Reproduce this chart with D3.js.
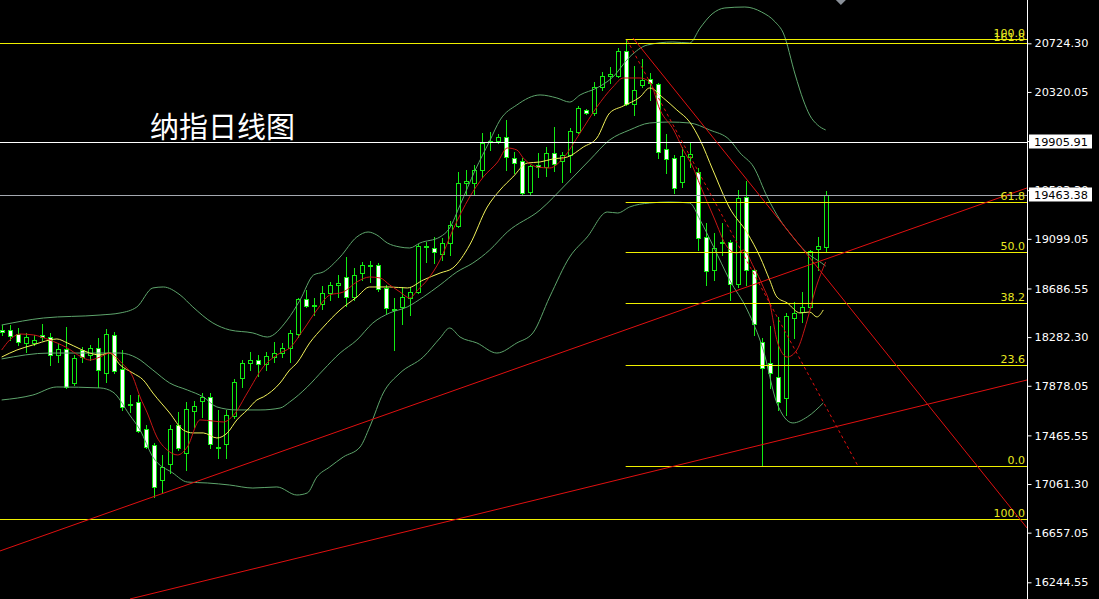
<!DOCTYPE html>
<html><head><meta charset="utf-8">
<script src="https://cdn.jsdelivr.net/npm/d3@7"></script>
<style>html,body{margin:0;padding:0;background:#000;overflow:hidden}svg{display:block}</style>
</head><body>
<svg id="c" width="1099" height="599"></svg>
<script>
// ---- data ----
const opens = [18342,18342,18308,18234,18234,18300,18283,18134,18184,17901,
18175,18134,18192,17984,18300,18017,17727,17743,17519,17386,
17095,17228,17552,17319,17668,17752,17785,17370,17394,17627,
17943,18067,18092,18059,18117,18150,18192,18308,18599,18541,
18558,18649,18716,18782,18616,18815,18874,18882,18691,18516,
18533,18607,18657,19031,19023,18973,19065,19206,19563,19563,
19671,19906,19912,19946,19771,19746,19488,19713,19696,19813,
19746,19796,19987,20170,20145,20361,20453,20453,20660,20220,
20378,20428,20386,19846,19771,19572,19779,19655,19115,18840,
19065,19073,18724,19447,18840,18242,18067,17951,17776,18441,
18491,18533,19015,19031];
const highs = [18383,18383,18358,18317,18300,18391,18317,18234,18367,18134,
18200,18217,18275,18350,18325,18175,17800,17801,17552,17402,
17303,17552,17660,17740,17752,17818,17818,17677,17677,17934,
18092,18159,18134,18159,18242,18234,18342,18607,18674,18607,
18707,18741,18799,18948,18857,18907,18915,18899,18716,18607,
18699,18699,19056,19073,19115,19106,19248,19655,19671,19713,
19979,19987,19971,20087,19821,19771,19713,19813,19862,20029,
19821,20020,20203,20178,20403,20486,20527,20685,20760,20536,
20594,20477,20394,19971,19796,19862,19896,19688,19231,19148,
19231,19090,19505,19580,18857,18275,18375,18450,18483,18574,
18657,19006,19115,19497];
const lows = [18300,18259,18217,18159,18217,18259,18051,18076,17860,17885,
18076,18092,17868,17909,17984,17677,17660,17494,17361,16954,
16995,17153,17344,17178,17535,17619,17361,17278,17278,17610,
17868,18009,17959,18009,18076,18117,18076,18283,18533,18466,
18516,18591,18616,18541,18591,18757,18741,18666,18483,18175,
18391,18466,18649,18907,18898,18923,18965,19198,19472,19472,
19613,19838,19896,19671,19646,19464,19464,19613,19621,19663,
19572,19655,19979,20137,20128,20336,20394,20444,20212,20128,
20361,20253,19771,19646,19480,19530,19696,19006,18716,18757,
18965,18591,18699,18716,18300,17220,17860,17677,17635,18275,
18408,18524,18840,18990];
const closes = [18325,18292,18242,18283,18259,18283,18134,18184,17868,18109,
18117,18192,18009,18308,18001,17702,17722,17502,17369,17037,
17203,17519,17361,17685,17710,17785,17394,17361,17635,17909,
18067,18092,18059,18126,18150,18192,18317,18599,18541,18549,
18649,18716,18732,18616,18799,18882,18882,18682,18524,18516,
18616,18657,19040,19036,18990,19065,19214,19563,19580,19671,
19896,19912,19946,19779,19730,19480,19705,19696,19813,19721,
19796,19995,20187,20145,20361,20453,20469,20660,20220,20336,
20419,20394,19821,19763,19522,19788,19804,19106,18832,19023,
19073,18724,19439,18840,18392,18026,17984,17743,18458,18483,
18533,18998,19040,19463];

// indicator curves: [bar index, price]
const redMA = [[0,18175],[1,18258],[2.3,18308],[4,18300],[6,18258],[8,18200],[10,18117],[11,18092],[12.3,18117],[13.5,18150],
[15,18067],[16.4,17951],[17.3,17785],[18.2,17652],[19.4,17452],[20.7,17344],[22,17303],[23.2,17369],[24.8,17594],[26.4,17585],
[27.7,17577],[29,17635],[30.7,17818],[32.7,18034],[34.8,18150],[36,18192],[37.7,18342],[39.4,18508],[41,18632],[42.7,18657],
[44.4,18741],[46,18782],[47.3,18774],[48.5,18716],[49.8,18657],[51,18608],[52,18674],[53.2,18757],[54.8,18923],[56.4,19173],
[58.5,19447],[60.2,19613],[62,19738],[63.2,19854],[64.4,19838],[65.2,19771],[67,19696],[68.5,19688],[70.2,19771],[72.3,19979],
[74.4,20195],[76.4,20361],[77.7,20436],[79.8,20436],[81,20403],[82.3,20170],[84,20004],[85.2,19838],[86.4,19696],[87.3,19547],
[89,19281],[90.7,19031],[91.9,18981],[92.7,19006],[94,18865],[95.2,18699],[96,18566],[97,18234],[98.2,18117],[99.4,18175],
[100.7,18425],[101.7,18674],[103,18907]];
const yellowMA = [[0,18117],[1.9,18175],[3.9,18217],[6,18258],[6.9,18267],[8.2,18234],[9.8,18184],[11,18150],[12.3,18134],[13.5,18150],
[14.8,18051],[16.4,17984],[17.7,17926],[18.9,17818],[21,17652],[22.7,17510],[23.9,17486],[25.2,17486],[26.9,17444],[28.2,17486],
[29.4,17594],[30.7,17677],[31.9,17760],[32.7,17785],[34.8,17901],[36,18009],[36.9,18067],[38.5,18234],[40.2,18366],[42.3,18508],
[44.4,18616],[46,18699],[48.5,18699],[50.7,18691],[52.7,18757],[54.8,18815],[56.4,18857],[58.5,19048],[60.7,19364],[62.3,19505],
[63.9,19613],[65.7,19729],[67.3,19738],[68.9,19763],[70.7,19779],[72.7,19862],[74.4,19937],[76,20145],[77.7,20203],[79.8,20278],
[81,20353],[82.7,20270],[84.4,20170],[86,20070],[87.3,19921],[88.9,19671],[91,19355],[93.2,19148],[94.8,18948],[96,18757],
[96.9,18616],[98.2,18566],[99.8,18483],[101,18491],[101.9,18450],[102.7,18508]];
const bandUpper = [[0,18383],[5.2,18441],[12.3,18466],[14.8,18483],[16.9,18533],[18.9,18691],[20.2,18699],[22.3,18633],[23.9,18533],[26.4,18400],
[28.5,18342],[31.4,18317],[33.2,18283],[35.7,18425],[37.3,18591],[39,18799],[40.2,18824],[42.3,18948],[44.4,19115],[45.8,19156],
[46.9,19131],[48.2,19065],[49.8,19031],[51,19023],[52.3,19065],[54.8,19115],[56,19189],[57.3,19380],[59.2,19671],[61,19912],
[62.3,20087],[64.4,20212],[67.3,20295],[69.4,20270],[71,20236],[72.3,20295],[74.4,20353],[76.4,20444],[78.5,20611],[80.7,20710],
[83.9,20735],[86,20727],[87.3,20851],[88.8,20968],[90.4,21018],[92.9,21026],[95,20984],[96.7,20901],[97.7,20810],[99.2,20461],
[100.2,20253],[101,20128],[102,20045],[103,20004]];
const bandMiddle = [[0,18101],[6,18150],[14.8,18150],[16.9,18109],[18.9,18009],[21,17901],[23.2,17843],[25.2,17785],[26.9,17702],[29.4,17677],
[32.3,17677],[34.8,17693],[36,17743],[38.2,17868],[40.2,18009],[42.3,18150],[44.4,18258],[46.4,18400],[48.5,18483],[50.7,18533],
[52.7,18616],[54.8,18716],[56.9,18824],[58.9,18898],[61,19006],[63.2,19156],[67.3,19339],[70.7,19563],[73.5,19754],[76,19921],
[78.5,20004],[81,20062],[83.5,20070],[86,20062],[88.5,20004],[91,19921],[92.3,19813],[94,19696],[95.7,19447],[97.3,19256],
[98.5,19148],[100.7,18981],[102.5,18898],[103,18873]];
const bandLower = [[0,17760],[3.9,17801],[6.9,17868],[12.3,17860],[13.9,17826],[16,17635],[17.3,17510],[18.9,17286],[21.4,17153],[23.2,17078],
[25.7,17070],[28.5,17053],[31.4,17028],[34.4,17037],[36.9,16970],[38.2,16987],[39.4,17120],[41,17203],[42.7,17286],[44.8,17369],
[46,17535],[47.7,17818],[49.8,17984],[52.7,18117],[54.8,18275],[56,18358],[57.3,18283],[59.4,18234],[61.9,18150],[64.4,18234],
[66.4,18317],[68.5,18616],[71,18948],[73.2,19115],[75.7,19322],[77,19314],[78.5,19364],[81,19397],[83.5,19405],[86,19397],
[87.3,19256],[89,19031],[91,18757],[93.2,18508],[95.2,18175],[96.9,17735],[98.9,17569],[100.7,17619],[102.7,17735]];

// axis tick labels
const axisTicks = [20724.30,20320.05,19911.80,19503.30,19099.05,18686.55,18282.30,17878.05,17465.55,17061.30,16657.05,16244.55];

// horizontal objects
const fibStart = 78;
const fibLabels = ["0.0","23.6","38.2","50.0","61.8","100.0"];
const fibPrices = [17211,18051,18566,18990,19405,20760];
const extLabels = ["100.0","161.8"];
const extPrices = [16771,20724];
const whiteLevel = 19905.91;
const lastPrice = 19463.38;

// trend lines: [bar index, price] end points
const trendUpper = [[-0.21,16505],[128.17,19522]];
const trendLower = [[16.04,16106],[128.17,17926]];
const trendFall = [[78.92,20768],[128.17,16696]];
const trendFallDash = [[78.17,20752],[107.04,17211]];

const title = "纳指日线图";

// ---- drawing ----
const W = 1099, H = 599, plotR = 1027;
const svg = d3.select("#c");
svg.append("rect").attr("width",W).attr("height",H).attr("fill","#000");

const x = d3.scaleLinear().domain([0,103]).range([1.67,825.67]);
const y = d3.scaleLinear().domain([16244.55,20724.30]).range([582.3,43.3]);
const xRight = x.invert(plotR);

svg.append("clipPath").attr("id","plot").append("rect").attr("x",0).attr("y",0).attr("width",plotR).attr("height",H);
const g = svg.append("g").attr("clip-path","url(#plot)");

// candles
const green = "#12ec12";
const bars = d3.range(opens.length);
const cg = g.append("g");
bars.forEach(i=>{
  const cx = Math.round(x(i));
  cg.append("line").attr("x1",cx+0.5).attr("x2",cx+0.5)
    .attr("y1",Math.round(y(highs[i]))).attr("y2",Math.round(y(lows[i]))+1)
    .attr("stroke",green).attr("stroke-width",1);
  const top = Math.round(y(Math.max(opens[i],closes[i])));
  const bot = Math.round(y(Math.min(opens[i],closes[i])));
  const bull = closes[i] >= opens[i];
  cg.append("rect").attr("x",cx-1.5).attr("y",top+0.5)
    .attr("width",4).attr("height",Math.max(1,bot-top))
    .attr("fill", bull ? "#000" : "#fff").attr("stroke",green).attr("stroke-width",1);
});

// bands and MAs
const line = d3.line().x(d=>x(d[0])).y(d=>y(d[1])).curve(d3.curveMonotoneX);
const bandColor = "#5ea56c";
[bandUpper,bandMiddle,bandLower].forEach(s=>{
  g.append("path").attr("d",line(s)).attr("fill","none").attr("stroke",bandColor).attr("stroke-width",1);
});
g.append("path").attr("d",line(yellowMA)).attr("fill","none").attr("stroke","#f2f25a").attr("stroke-width",1);
g.append("path").attr("d",line(redMA)).attr("fill","none").attr("stroke","#c81616").attr("stroke-width",1);

// horizontal lines
const hline = (price,x0,color) => g.append("line")
  .attr("x1",x0).attr("x2",plotR).attr("y1",Math.round(y(price))+0.5).attr("y2",Math.round(y(price))+0.5)
  .attr("stroke",color).attr("stroke-width",1);
hline(whiteLevel,0,"#ffffff");
hline(lastPrice,0,"#a4a8b0");
const fibColor = "#f0f000";
fibPrices.forEach(p=>hline(p,x(fibStart),fibColor));
extPrices.forEach(p=>hline(p,0,fibColor));

// trend lines
const straight = d3.line().x(d=>x(d[0])).y(d=>y(d[1]));
const red = "#e01010";
[trendUpper,trendLower,trendFall].forEach(s=>{
  g.append("path").attr("d",straight(s)).attr("stroke",red).attr("stroke-width",1).attr("fill","none");
});
g.append("path").attr("d",straight(trendFallDash)).attr("stroke",red).attr("stroke-width",1)
  .attr("fill","none").attr("stroke-dasharray","3,3");

// fib labels
const labFont = "DejaVu Sans, sans-serif";
const addFibLabel = (txt,p) => svg.append("text").attr("x",plotR-2).attr("y",Math.round(y(p))-2.5)
  .attr("text-anchor","end").attr("font-family",labFont).attr("font-size",11).attr("fill","#e8e820").text(txt);
fibLabels.forEach((t,k)=>addFibLabel(t,fibPrices[k]));
extLabels.forEach((t,k)=>addFibLabel(t,extPrices[k]));

// title
svg.append("text").attr("x",150).attr("y",138).attr("font-family","Noto Sans CJK SC, sans-serif")
  .attr("font-size",29).attr("fill","#ffffff").text(title);

// right axis
svg.append("line").attr("x1",plotR+0.5).attr("x2",plotR+0.5).attr("y1",0).attr("y2",H).attr("stroke","#ffffff");
const ax = svg.append("g").attr("transform",`translate(${plotR+0.5},0)`)
  .call(d3.axisRight(y).tickValues(axisTicks).tickSize(4).tickPadding(3).tickFormat(d3.format(".2f")));
ax.select(".domain").remove();
ax.selectAll(".tick line").attr("stroke","#ffffff");
ax.selectAll(".tick text").attr("fill","#ffffff").attr("font-family",labFont).attr("font-size",11.3);

// price boxes
const priceBox = (p) => {
  const yy = Math.round(y(p));
  svg.append("rect").attr("x",plotR+2).attr("y",yy-7.5).attr("width",63).attr("height",14).attr("fill","#ffffff");
  svg.append("text").attr("x",plotR+7).attr("y",yy).attr("dy","0.35em").attr("font-family",labFont)
    .attr("font-size",11.3).attr("fill","#000").text(d3.format(".2f")(p));
};
priceBox(whiteLevel);
priceBox(lastPrice);

// small top marker
const mx = x(104.9);
svg.append("path").attr("d",`M${mx-5},0L${mx+5},0L${mx},5Z`).attr("fill","#8a9099");
</script>
</body></html>
